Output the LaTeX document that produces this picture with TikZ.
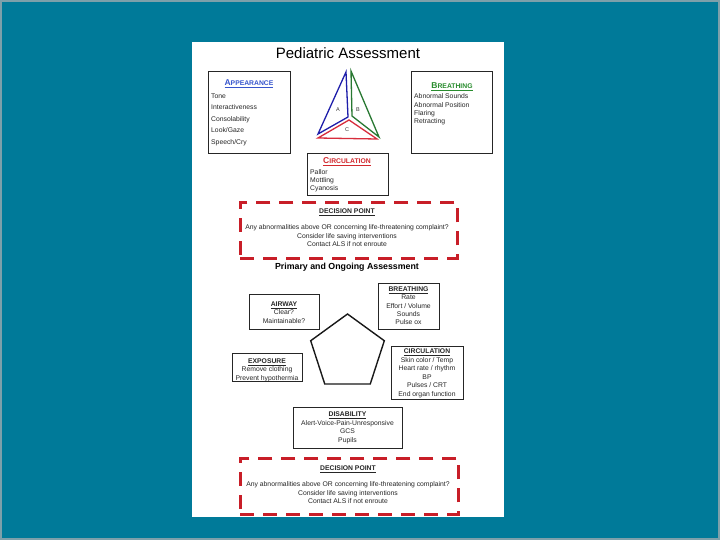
\documentclass[tikz,border=0pt]{standalone}
\usepackage{fontspec}
\setmainfont{Liberation Sans}
\usetikzlibrary{shapes.geometric, positioning}

\definecolor{slideteal}{RGB}{0,122,153}
\definecolor{slideedge}{RGB}{125,160,170}
\definecolor{headblue}{RGB}{55,85,205}
\definecolor{headgreen}{RGB}{40,140,45}
\definecolor{headred}{RGB}{210,40,45}
\definecolor{decred}{RGB}{200,30,40}
\definecolor{triblue}{RGB}{30,30,170}
\definecolor{trigreen}{RGB}{40,120,50}
\definecolor{trired}{RGB}{215,45,60}

\newcommand{\capshead}[2]{\underline{\textbf{{\fontsize{8.5}{8.5}\selectfont #1}{\fontsize{6.8}{6.8}\selectfont #2}}}}
\newcommand{\boxhead}[1]{\underline{\textbf{#1}}}

\begin{document}
\begin{tikzpicture}[x=1pt, y=-1pt,
    panel/.style={draw=black!85, line width=1.2pt, inner sep=0pt, anchor=north west},
    decision/.style={draw=decred, line width=2.8pt, dash pattern=on 14pt off 9pt, inner sep=0pt, anchor=north west},
    head/.style={inner sep=0pt, font=\fontsize{6.8}{6.8}\selectfont},
    body/.style={inner sep=0pt, align=left, anchor=north west, text=black!85},
    centred/.style={inner sep=0pt, align=center, anchor=north, text=black!85},
    tri/.style={line width=1.3pt, line join=miter},
    corner/.style={font=\fontsize{5.5}{5.5}\selectfont, text=black!80, inner sep=0pt}
  ]

    % Slide
    \fill[slideteal] (0,0) rectangle (720,540);
    \draw[slideedge, line width=2pt] (1,1) rectangle (719,539);
    \fill[white] (192,42) rectangle (504,517);

    % Title
    \node[font=\fontsize{15}{15}\selectfont] (title) at (348,53) {Pediatric Assessment};

    % Assessment triangle
    \draw[tri, triblue] (346,72) -- (318,134) -- (348,117) -- cycle;
    \draw[tri, trigreen] (351,71) -- (379,137) -- (352,116) -- cycle;
    \draw[tri, trired] (318,138) -- (377,139) -- (349,120) -- cycle;
    \node[corner] (sideA) at (338,110) {A};
    \node[corner] (sideB) at (358,110) {B};
    \node[corner] (sideC) at (347,130) {C};

    % Triangle boxes
    \node[panel, minimum width=82pt, minimum height=82pt] (appear) at (208,71) {};
    \node[head, text=headblue] (appearhead) at (249,84) {\capshead{A}{PPEARANCE}};
    \node[body, font=\fontsize{6.8}{11.5}\selectfont] (appearbody) at (211,93.5)
      {Tone\\Interactiveness\\Consolability\\Look/Gaze\\Speech/Cry};

    \node[panel, minimum width=81pt, minimum height=82pt] (breath) at (411,71) {};
    \node[head, text=headgreen] (breathhead) at (452,87) {\capshead{B}{REATHING}};
    \node[body, font=\fontsize{6.8}{8.4}\selectfont] (breathbody) at (414,93.5)
      {Abnormal Sounds\\Abnormal Position\\Flaring\\Retracting};

    \node[panel, minimum width=81pt, minimum height=42pt] (circ) at (307,153) {};
    \node[head, text=headred] (circhead) at (347,162) {\capshead{C}{IRCULATION}};
    \node[body, font=\fontsize{6.8}{8}\selectfont] (circbody) at (310,169.5)
      {Pallor\\Mottling\\Cyanosis};

    % Decision point
    \node[decision, minimum width=217pt, minimum height=56pt] (decideA) at (239,201) {};
    \node[centred, font=\fontsize{6.8}{8.5}\selectfont] (decideAtext) at (347,208.5)
      {\boxhead{DECISION POINT}\\[8pt]
       Any abnormalities above OR concerning life-threatening complaint?\\
       Consider life saving interventions\\
       Contact ALS if not enroute};

    % Primary assessment
    \node[font=\fontsize{8.8}{8.8}\selectfont\bfseries] (primary) at (347,267) {Primary and Ongoing Assessment};

    \node[regular polygon, regular polygon sides=5, minimum size=77.4pt, inner sep=0pt,
      draw=black!90, line width=1.4pt] (penta) at (347.5,352.7) {};

    \node[panel, minimum width=70pt, minimum height=35pt] (airway) at (249,294) {};
    \node[centred, font=\fontsize{6.8}{8.5}\selectfont] (airwaytext) at (284,301.5)
      {\boxhead{AIRWAY}\\Clear?\\Maintainable?};

    \node[panel, minimum width=61pt, minimum height=46pt] (breathB) at (378,283) {};
    \node[centred, font=\fontsize{6.8}{8.3}\selectfont] (breathBtext) at (408.5,286.5)
      {\boxhead{BREATHING}\\Rate\\Effort / Volume\\Sounds\\Pulse ox};

    \node[panel, minimum width=70pt, minimum height=28pt] (expose) at (232,353) {};
    \node[centred, font=\fontsize{6.8}{8.5}\selectfont] (exposetext) at (267,358.5)
      {\boxhead{EXPOSURE}\\Remove clothing\\Prevent hypothermia};

    \node[panel, minimum width=72pt, minimum height=53pt] (circB) at (391,346) {};
    \node[centred, font=\fontsize{6.8}{8.6}\selectfont] (circBtext) at (427,348.5)
      {\boxhead{CIRCULATION}\\Skin color / Temp\\Heart rate / rhythm\\BP\\Pulses / CRT\\End organ function};

    \node[panel, minimum width=109pt, minimum height=41pt] (disab) at (293,407) {};
    \node[centred, font=\fontsize{6.8}{8.7}\selectfont] (disabtext) at (347.5,411.5)
      {\boxhead{DISABILITY}\\Alert-Voice-Pain-Unresponsive\\GCS\\Pupils};

    % Decision point
    \node[decision, minimum width=218pt, minimum height=56pt] (decideB) at (239,457) {};
    \node[centred, font=\fontsize{6.8}{8.5}\selectfont] (decideBtext) at (348,465.5)
      {\boxhead{DECISION POINT}\\[8pt]
       Any abnormalities above OR concerning life-threatening complaint?\\
       Consider life saving interventions\\
       Contact ALS if not enroute};

  \end{tikzpicture}
\end{document}
